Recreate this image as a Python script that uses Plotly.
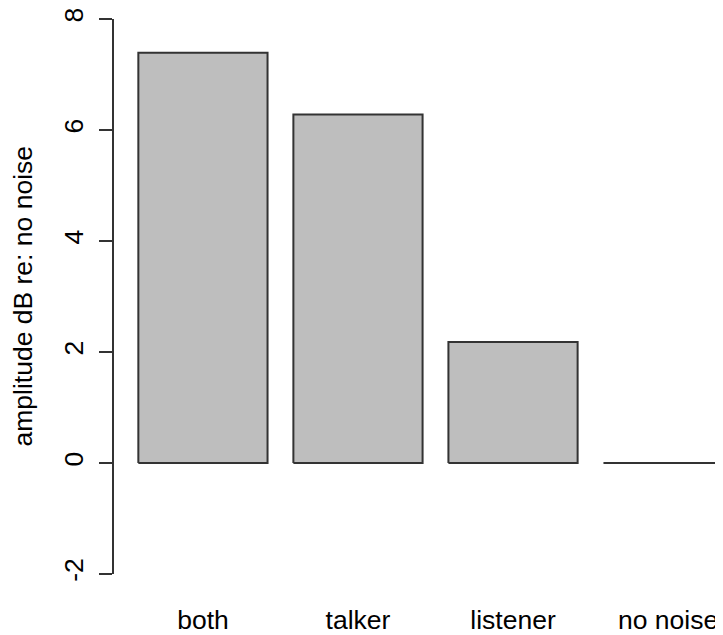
import plotly.graph_objects as go

# Data
categories = ["both", "talker", "listener", "no noise"]
values = [7.39, 6.28, 2.18, 0.0]
y_ticks = [-2, 0, 2, 4, 6, 8]
y_title = "amplitude dB re: no noise"

# Style (R barplot: width=1, space=0.2)
BAR_W = 1.0
SPACE = 0.2
FILL = "#BEBEBE"
EDGE = "#333333"
FONT = "Liberation Sans, Arial, Helvetica, sans-serif"
FS = 26.5

fig = go.Figure()
centers = []
for i, (cat, v) in enumerate(zip(categories, values)):
    left = SPACE + i * (BAR_W + SPACE)
    right = left + BAR_W
    centers.append((left + right) / 2)
    fig.add_trace(go.Scatter(
        x=[left, left, right, right, left],
        y=[0, v, v, 0, 0],
        mode="lines",
        fill="toself",
        fillcolor=FILL,
        line=dict(color=EDGE, width=2),
        hoverinfo="skip",
        showlegend=False,
    ))

# page body has an 8px margin; compensate so the chart sits at the same pixels
OFF = 8
W, H = 723 - OFF, 635 - OFF
ml, mr, mt, mb = 114 - OFF, 0, 14 - OFF, 60
px_per_unit = 129.2
x0_px = 112.5 - OFF
x_lo = (ml - x0_px) / px_per_unit
x_hi = (W - mr - x0_px) / px_per_unit

fig.update_layout(
    width=W, height=H,
    margin=dict(l=ml, r=mr, t=mt, b=mb, pad=0),
    paper_bgcolor="white", plot_bgcolor="white",
    font=dict(family=FONT, size=FS, color="black"),
    xaxis=dict(
        range=[x_lo, x_hi],
        tickmode="array", tickvals=centers, ticktext=categories,
        showline=False, showgrid=False, zeroline=False,
        ticks="", ticklabelstandoff=27, ticklabeloverflow="allow",
        tickfont=dict(family=FONT, size=FS, color="black"),
        fixedrange=True,
    ),
    yaxis=dict(
        range=[-2, 8],
        tickmode="array", tickvals=y_ticks, ticktext=[str(t) for t in y_ticks],
        showline=True, linecolor=EDGE, linewidth=2,
        ticks="outside", ticklen=13, tickwidth=2, tickcolor=EDGE,
        tickangle=-90, ticklabelstandoff=5, ticklabeloverflow="allow",
        showgrid=False, zeroline=False,
        tickfont=dict(family=FONT, size=FS, color="black"),
        fixedrange=True,
    ),
    annotations=[dict(
        text=y_title, xref="paper", yref="y", x=0, y=3,
        xanchor="center", yanchor="middle", xshift=-92,
        textangle=-90, showarrow=False,
        font=dict(family=FONT, size=FS, color="black"),
    )],
)

fig.write_html("out.html")
